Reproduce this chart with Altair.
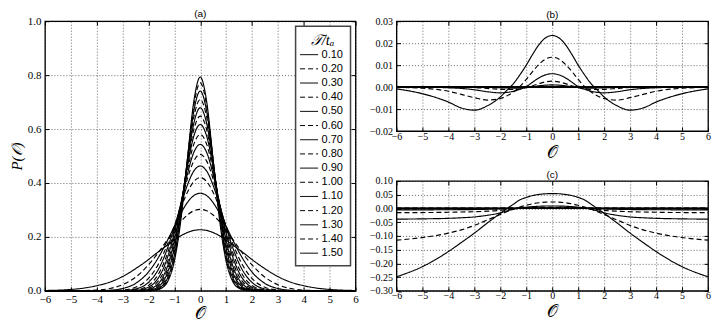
import altair as alt
import pandas as pd

# ---------------- data ----------------
T_LABELS = ["0.10", "0.20", "0.30", "0.40", "0.50", "0.60", "0.70", "0.80",
            "0.90", "1.00", "1.10", "1.20", "1.30", "1.40", "1.50"]

# sample positions for O >= 0 (curves are symmetric about O = 0)
X_HALF = [0.0, 0.25, 0.5, 0.75, 1.0, 1.25, 1.5, 1.75, 2.0, 2.5, 3.0, 3.5, 4.0, 5.0, 6.0]

# panel (a): P(O)
pa_010 = [0.793, 0.701, 0.484, 0.261, 0.110, 0.036, 0.0093, 0.0019, 0.0003, 0.0, 0.0, 0.0, 0.0, 0.0, 0.0]
pa_020 = [0.771, 0.686, 0.483, 0.270, 0.119, 0.042, 0.0115, 0.0025, 0.0004, 0.0, 0.0, 0.0, 0.0, 0.0, 0.0]
pa_030 = [0.741, 0.665, 0.481, 0.281, 0.132, 0.050, 0.0153, 0.0038, 0.0007, 0.0, 0.0, 0.0, 0.0, 0.0, 0.0]
pa_040 = [0.710, 0.643, 0.478, 0.291, 0.146, 0.060, 0.0201, 0.0056, 0.0013, 0.0001, 0.0, 0.0, 0.0, 0.0, 0.0]
pa_050 = [0.679, 0.620, 0.473, 0.301, 0.160, 0.071, 0.0261, 0.0080, 0.0021, 0.0001, 0.0, 0.0, 0.0, 0.0, 0.0]
pa_060 = [0.648, 0.597, 0.466, 0.309, 0.173, 0.083, 0.0333, 0.0114, 0.0033, 0.0002, 0.0, 0.0, 0.0, 0.0, 0.0]
pa_070 = [0.617, 0.573, 0.458, 0.315, 0.187, 0.095, 0.0418, 0.0158, 0.0052, 0.0003, 0.0, 0.0, 0.0, 0.0, 0.0]
pa_080 = [0.580, 0.543, 0.445, 0.320, 0.202, 0.111, 0.0538, 0.0228, 0.0085, 0.0008, 0.0, 0.0, 0.0, 0.0, 0.0]
pa_090 = [0.543, 0.513, 0.431, 0.323, 0.215, 0.128, 0.0676, 0.0318, 0.0134, 0.0017, 0.0001, 0.0, 0.0, 0.0, 0.0]
pa_100 = [0.506, 0.481, 0.414, 0.322, 0.226, 0.144, 0.0828, 0.0431, 0.0203, 0.0033, 0.0004, 0.0, 0.0, 0.0, 0.0]
pa_110 = [0.463, 0.444, 0.391, 0.317, 0.236, 0.162, 0.1017, 0.0589, 0.0313, 0.0069, 0.0011, 0.0001, 0.0, 0.0, 0.0]
pa_120 = [0.420, 0.405, 0.365, 0.307, 0.241, 0.177, 0.1209, 0.0772, 0.0459, 0.0131, 0.0029, 0.0004, 0.0001, 0.0, 0.0]
pa_130 = [0.362, 0.353, 0.327, 0.287, 0.239, 0.190, 0.1434, 0.1028, 0.0698, 0.0274, 0.0087, 0.0021, 0.0003, 0.0, 0.0]
pa_140 = [0.302, 0.297, 0.281, 0.256, 0.226, 0.192, 0.158, 0.1255, 0.0962, 0.0504, 0.0226, 0.0084, 0.0025, 0.0001, 0.0]
pa_150 = [0.2265, 0.224, 0.216, 0.204, 0.188, 0.171, 0.153, 0.135, 0.116, 0.082, 0.053, 0.032, 0.019, 0.005, 0.0011]

# panel (b)
pb_010 = [0.0, 0.0, 0.0, 0.0, 0.0, 0.0, 0.0, 0.0, 0.0, 0.0, 0.0, 0.0, 0.0, 0.0, 0.0]
pb_020 = [0.0, 0.0, 0.0, 0.0, 0.0, 0.0, 0.0, 0.0, 0.0, 0.0, 0.0, 0.0, 0.0, 0.0, 0.0]
pb_030 = [0.0, 0.0, 0.0, 0.0, 0.0, 0.0, 0.0, 0.0, 0.0, 0.0, 0.0, 0.0, 0.0, 0.0, 0.0]
pb_040 = [0.0, 0.0, 0.0, 0.0, 0.0, 0.0, 0.0, 0.0, 0.0, 0.0, 0.0, 0.0, 0.0, 0.0, 0.0]
pb_050 = [0.0, 0.0, 0.0, 0.0, 0.0, 0.0, 0.0, 0.0, 0.0, 0.0, 0.0, 0.0, 0.0, 0.0, 0.0]
pb_060 = [0.0, 0.0, 0.0, 0.0, 0.0, 0.0, 0.0, 0.0, 0.0, 0.0, 0.0, 0.0, 0.0, 0.0, 0.0]
pb_070 = [0.0, 0.0, 0.0, 0.0, 0.0, 0.0, 0.0, 0.0, 0.0, 0.0, 0.0, 0.0, 0.0, 0.0, 0.0]
pb_080 = [0.0001, 0.0001, 0.0, 0.0, 0.0, 0.0, 0.0, 0.0, 0.0, 0.0, 0.0, 0.0, 0.0, 0.0, 0.0]
pb_090 = [0.0002, 0.0001, 0.0001, 0.0, 0.0, -0.0001, -0.0001, 0.0, 0.0, 0.0, 0.0, 0.0, 0.0, 0.0, 0.0]
pb_100 = [0.0004, 0.0003, 0.0002, 0.0, -0.0001, -0.0002, -0.0002, -0.0001, -0.0001, 0.0, 0.0, 0.0, 0.0, 0.0, 0.0]
pb_110 = [0.0010, 0.0009, 0.0006, 0.0002, -0.0001, -0.0004, -0.0005, -0.0004, -0.0003, -0.0001, 0.0, 0.0, 0.0, 0.0, 0.0]
pb_120 = [0.0027, 0.0024, 0.0016, 0.0006, -0.0003, -0.0009, -0.0011, -0.0011, -0.0010, -0.0006, -0.0002, -0.0001, 0.0, 0.0, 0.0]
pb_130 = [0.0061, 0.0056, 0.0043, 0.0023, 0.0002, -0.0010, -0.0019, -0.0024, -0.0026, -0.0021, -0.0012, -0.0006, -0.0003, 0.0, 0.0]
pb_140 = [0.0136, 0.0128, 0.0105, 0.0072, 0.0035, 0.0002, -0.0022, -0.0040, -0.0052, -0.0059, -0.0048, -0.0033, -0.0019, -0.0005, -0.0001]
pb_150 = [0.0235, 0.0225, 0.0195, 0.0150, 0.0100, 0.0055, 0.0015, -0.0015, -0.0045, -0.0085, -0.0105, -0.0095, -0.0068, -0.0030, -0.0008]

# panel (c)
pc_010 = [0.0, 0.0, 0.0, 0.0, 0.0, 0.0, 0.0, 0.0, 0.0, 0.0, 0.0, 0.0, 0.0, 0.0, 0.0]
pc_020 = [0.0, 0.0, 0.0, 0.0, 0.0, 0.0, 0.0, 0.0, 0.0, 0.0, 0.0, 0.0, 0.0, 0.0, 0.0]
pc_030 = [0.0, 0.0, 0.0, 0.0, 0.0, 0.0, 0.0, 0.0, 0.0, 0.0, 0.0, 0.0, 0.0, 0.0, 0.0]
pc_040 = [0.0, 0.0, 0.0, 0.0, 0.0, 0.0, 0.0, 0.0, 0.0, 0.0, 0.0, 0.0, 0.0, 0.0, 0.0]
pc_050 = [0.0, 0.0, 0.0, 0.0, 0.0, 0.0, 0.0, 0.0, 0.0, 0.0, 0.0, 0.0, 0.0, 0.0, 0.0]
pc_060 = [0.0, 0.0, 0.0, 0.0, 0.0, 0.0, 0.0, 0.0, 0.0, 0.0, 0.0, 0.0, 0.0, 0.0, 0.0]
pc_070 = [0.0, 0.0, 0.0, 0.0, 0.0, 0.0, 0.0, 0.0, 0.0, 0.0, 0.0, 0.0, 0.0, 0.0, 0.0]
pc_080 = [0.0001, 0.0001, 0.0, 0.0, 0.0, 0.0, 0.0, 0.0, -0.0001, -0.0001, -0.0001, -0.0001, -0.0001, -0.0001, -0.0001]
pc_090 = [0.0002, 0.0002, 0.0001, 0.0001, 0.0, 0.0, -0.0001, -0.0001, -0.0002, -0.0003, -0.0004, -0.0004, -0.0005, -0.0005, -0.0005]
pc_100 = [0.0005, 0.0005, 0.0004, 0.0003, 0.0002, 0.0, -0.0002, -0.0004, -0.0007, -0.0010, -0.0013, -0.0014, -0.0015, -0.0016, -0.0016]
pc_110 = [0.0015, 0.0014, 0.0012, 0.0010, 0.0008, 0.0002, -0.0005, -0.0012, -0.0020, -0.0030, -0.0040, -0.0045, -0.0048, -0.0050, -0.0050]
pc_120 = [0.0040, 0.0039, 0.0035, 0.0028, 0.0020, 0.0005, -0.0020, -0.0040, -0.0070, -0.0100, -0.0120, -0.0130, -0.0140, -0.0150, -0.0155]
pc_130 = [0.0090, 0.0088, 0.0080, 0.0065, 0.0045, 0.0018, -0.0030, -0.0090, -0.0160, -0.0250, -0.0310, -0.0340, -0.0360, -0.0380, -0.0390]
pc_140 = [0.0236, 0.0230, 0.0208, 0.0170, 0.0115, 0.0050, -0.0030, -0.0120, -0.0220, -0.0420, -0.0620, -0.0780, -0.0900, -0.1060, -0.1155]
pc_150 = [0.0540, 0.0535, 0.0510, 0.0470, 0.0400, 0.0310, 0.0150, -0.0010, -0.0180, -0.0530, -0.0900, -0.1240, -0.1570, -0.2120, -0.2490]

PA = [pa_010, pa_020, pa_030, pa_040, pa_050, pa_060, pa_070, pa_080,
      pa_090, pa_100, pa_110, pa_120, pa_130, pa_140, pa_150]
PB = [pb_010, pb_020, pb_030, pb_040, pb_050, pb_060, pb_070, pb_080,
      pb_090, pb_100, pb_110, pb_120, pb_130, pb_140, pb_150]
PC = [pc_010, pc_020, pc_030, pc_040, pc_050, pc_060, pc_070, pc_080,
      pc_090, pc_100, pc_110, pc_120, pc_130, pc_140, pc_150]

X_TICKS = [-6, -5, -4, -3, -2, -1, 0, 1, 2, 3, 4, 5, 6]
YA_TICKS = [0.0, 0.2, 0.4, 0.6, 0.8, 1.0]
YB_TICKS = [-0.02, -0.01, 0.0, 0.01, 0.02, 0.03]
YC_TICKS = [-0.30, -0.25, -0.20, -0.15, -0.10, -0.05, 0.0, 0.05, 0.10]

# ---------------- build tables ----------------
def table(curves):
    rows = []
    for lab, vals in zip(T_LABELS, curves):
        xs = [-x for x in X_HALF[:0:-1]] + X_HALF
        ys = vals[:0:-1] + vals
        for x, y in zip(xs, ys):
            rows.append({"x": x, "y": y, "T": lab})
    return pd.DataFrame(rows)

SERIF = "'Liberation Serif', 'DejaVu Serif', serif"
SANS = "'Liberation Sans', Arial, sans-serif"
DASHES = [[1, 0] if i % 2 == 0 else [5, 3] for i in range(len(T_LABELS))]
OTXT = "\U0001D4AA"   # script O
TTXT = "\U0001D4AF"   # script T


def panel(df, ydom, yticks, yfmt, w, h, title, lsize, xlpad, xtpad,
          ytitle=None, legend=None):
    xs = alt.Scale(domain=[-6, 6], nice=False, zero=False)
    ys = alt.Scale(domain=ydom, nice=False, zero=False)
    common = dict(domain=False, ticks=True, tickSize=4, offset=-4, tickColor="black",
                  tickWidth=1, labelFlush=False, labelOverlap=False)
    x_ax = alt.Axis(values=X_TICKS, format="d", title=OTXT, titleFont=SERIF,
                    titleFontSize=17, titleFontWeight="normal", titlePadding=xtpad,
                    labelFont=SERIF, labelFontSize=lsize, labelPadding=xlpad,
                    labelColor="black", titleColor="black",
                    grid=True, gridColor="black", gridDash=[1, 2], gridWidth=0.7,
                    gridOpacity=0.85, **common)
    yargs = dict(values=yticks, format=yfmt, labelFont=SERIF, labelFontSize=lsize,
                 labelPadding=4, labelColor="black", grid=True, gridColor="black",
                 gridDash=[1, 2], gridWidth=0.7, gridOpacity=0.85, **common)
    if ytitle:
        y_ax = alt.Axis(title=ytitle, titleFont=SERIF, titleFontSize=15,
                        titleFontStyle="italic", titleFontWeight="normal",
                        titleColor="black", titlePadding=3, **yargs)
    else:
        y_ax = alt.Axis(title=None, **yargs)
    top_ax = alt.Axis(orient="top", labels=False, title=None, grid=False, **common)
    right_ax = alt.Axis(orient="right", labels=False, title=None, grid=False, **common)

    lines = alt.Chart(df).mark_line(color="black", strokeWidth=1.15,
                                    interpolate="monotone").encode(
        x=alt.X("x:Q", scale=xs, axis=x_ax),
        y=alt.Y("y:Q", scale=ys, axis=y_ax),
        strokeDash=alt.StrokeDash("T:N", scale=alt.Scale(domain=T_LABELS, range=DASHES),
                                  legend=legend),
        detail="T:N",
    )
    ghost = alt.Chart(df).mark_line(opacity=0).encode(
        x=alt.X("x:Q", scale=xs, axis=top_ax),
        y=alt.Y("y:Q", scale=ys, axis=right_ax),
        detail="T:N",
    )
    return alt.layer(lines, ghost).resolve_axis(x="independent", y="independent").properties(
        width=w, height=h,
        title=alt.TitleParams(title, font=SANS, fontSize=10, fontWeight="normal",
                              offset=-4, color="black"),
    )


legend_a = alt.Legend(
    title=TTXT + "/t\u2090", orient="none", legendX=251, legendY=5,
    symbolType="M-1.5,0H1.5", symbolSize=144, symbolStrokeWidth=1,
    symbolStrokeColor="black", symbolFillColor="transparent",
    labelFont=SANS, labelFontSize=11, labelColor="black", labelOffset=6,
    rowPadding=2.2, padding=7, fillColor="white", strokeColor="#444",
    titleFont=SERIF, titleFontSize=15, titleFontStyle="italic",
    titleFontWeight="normal", titleAnchor="middle", titlePadding=0,
    titleColor="black",
)

pa = panel(table(PA), [0, 1], YA_TICKS, ".1f", 311, 270, "(a)", 11, 3, 1,
           ytitle="P(" + OTXT + ")", legend=legend_a)
pb = panel(table(PB), [-0.02, 0.03], YB_TICKS, ".2f", 312, 110, "(b)", 10, 0, 3)
pc = panel(table(PC), [-0.30, 0.10], YC_TICKS, ".2f", 312, 110, "(c)", 10, 0, 3)

right = alt.vconcat(pb, pc, spacing=50, bounds="flush").resolve_scale(strokeDash="independent")
chart = alt.hconcat(pa, right, spacing=41, bounds="flush").resolve_scale(
    strokeDash="independent"
).properties(
    padding={"left": 0, "top": 0, "right": 0, "bottom": 0},
    background="white",
).configure_view(stroke="black", strokeWidth=1.3).configure_legend(strokeWidth=1.5)

chart.save("out.html", embed_options={"renderer": "svg", "actions": False})
